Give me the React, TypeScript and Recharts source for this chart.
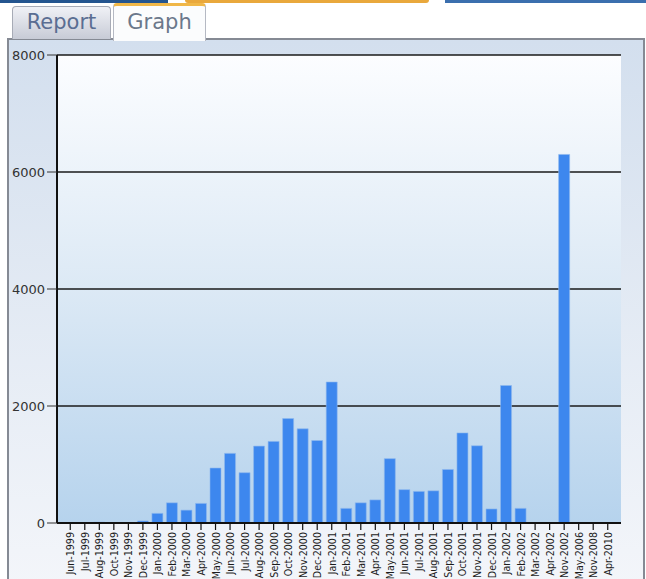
import { BarChart, Bar, XAxis, YAxis, CartesianGrid } from "recharts";

const months = [
  "Jun-1999", "Jul-1999", "Aug-1999", "Oct-1999", "Nov-1999", "Dec-1999",
  "Jan-2000", "Feb-2000", "Mar-2000", "Apr-2000", "May-2000", "Jun-2000",
  "Jul-2000", "Aug-2000", "Sep-2000", "Oct-2000", "Nov-2000", "Dec-2000",
  "Jan-2001", "Feb-2001", "Mar-2001", "Apr-2001", "May-2001", "Jun-2001",
  "Jul-2001", "Aug-2001", "Sep-2001", "Oct-2001", "Nov-2001", "Dec-2001",
  "Jan-2002", "Feb-2002", "Mar-2002", "Apr-2002", "Nov-2002", "May-2006",
  "Nov-2008", "Apr-2010",
];

const amounts = [
  0, 0, 15, 0, 0, 35,
  165, 345, 220, 335, 940, 1190,
  860, 1315, 1395, 1785, 1610, 1410,
  2410, 250, 345, 395, 1100, 570,
  540, 550, 915, 1540, 1320, 240,
  2350, 250, 0, 0, 6300, 0,
  0, 0,
];

const yTicks = [0, 2000, 4000, 6000, 8000];

const data = months.map((month, i) => ({ month, amount: amounts[i] }));

const MonthTick = ({ x, y, payload }: any) => (
  <g transform={`translate(${x},${y})`}>
    <text
      x={0}
      y={0}
      dy={4}
      transform="rotate(-90)"
      textAnchor="end"
      fontSize={10.6}
      fontFamily="'DejaVu Sans Condensed', 'DejaVu Sans', sans-serif"
      fontStretch="condensed"
      fill="#1c1c1c"
    >
      {payload.value}
    </text>
  </g>
);

export default function App() {
  return (
    <div style={{ position: "absolute", left: 0, top: 0, width: 646, height: 579, overflow: "hidden", background: "#fff" }}>
      {/* top colour strips */}
      <div style={{ position: "absolute", left: 0, top: 0, width: 168, height: 3, background: "#24558f" }} />
      <div style={{ position: "absolute", left: 185, top: 0, width: 244, height: 3, background: "#e9a83c", borderRadius: "0 0 3px 3px" }} />
      <div style={{ position: "absolute", left: 445, top: 0, width: 201, height: 3, background: "#3b6fae" }} />

      {/* frame */}
      <div
        style={{
          position: "absolute", left: 7, top: 38, width: 634, height: 560,
          border: "2px solid #858a94",
          background: "linear-gradient(#d3dfee, #f4f6fa)",
        }}
      />

      {/* tabs */}
      <div
        style={{
          position: "absolute", left: 12, top: 6, width: 97, height: 32,
          border: "1px solid #a7abb6", borderBottom: "none", borderRadius: "4px 4px 0 0",
          background: "linear-gradient(#f0f1f6, #c7cbd6)",
          fontFamily: "'DejaVu Sans', Verdana, sans-serif", fontSize: 21, color: "#5a6d92",
          textAlign: "center", lineHeight: "31px",
        }}
      >
        Report
      </div>
      <div
        style={{
          position: "absolute", left: 113, top: 3, width: 91, height: 35,
          border: "1px solid #b5b9c3", borderTop: "3px solid #f0b748", borderBottom: "none",
          borderRadius: "4px 4px 0 0",
          background: "#fbfcfd",
          fontFamily: "'DejaVu Sans', Verdana, sans-serif", fontSize: 21, color: "#6b788b",
          textAlign: "center", lineHeight: "32px",
        }}
      >
        Graph
      </div>

      <div style={{ position: "absolute", left: 0, top: 0 }}>
        <BarChart
          width={646}
          height={579}
          data={data}
          margin={{ top: 55, right: 25, bottom: 0, left: 0 }}
          barCategoryGap="12%"
        >
          <defs>
            <linearGradient id="plotBg" x1="0" y1="0" x2="0" y2="1">
              <stop offset="0%" stopColor="#fcfdff" />
              <stop offset="50%" stopColor="#dce9f5" />
              <stop offset="100%" stopColor="#b6d3ed" />
            </linearGradient>
          </defs>
          <CartesianGrid
            vertical={false}
            stroke="#1a1a1a"
            strokeWidth={1.5}
            fill="url(#plotBg)"
            fillOpacity={1}
          />
          <XAxis
            dataKey="month"
            interval={0}
            height={56}
            padding={{ left: 6, right: 6 }}
            tick={<MonthTick />}
            tickSize={7}
            tickMargin={2}
            axisLine={{ stroke: "#111", strokeWidth: 2 }}
            tickLine={{ stroke: "#111", strokeWidth: 1.2 }}
          />
          <YAxis
            domain={[0, 8000]}
            ticks={yTicks}
            width={57}
            interval={0}
            tickSize={10}
            tickMargin={2}
            tick={{ fill: "#333", fontSize: 13, fontFamily: "'DejaVu Sans', Verdana, sans-serif" }}
            axisLine={{ stroke: "#111", strokeWidth: 2 }}
            tickLine={{ stroke: "#333" }}
          />
          <YAxis
            yAxisId="frame"
            orientation="right"
            width={0}
            domain={[0, 8000]}
            tick={false}
            tickLine={false}
            axisLine={{ stroke: "#222", strokeWidth: 2 }}
          />
          <Bar dataKey="amount" fill="#3d87ee" stroke="#8fb8ef" strokeWidth={0.6} isAnimationActive={false} />
        </BarChart>
      </div>
    </div>
  );
}
